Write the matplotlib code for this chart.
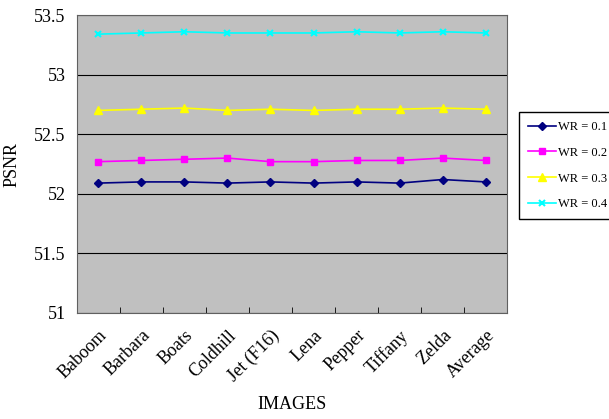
import numpy as np
import matplotlib.pyplot as plt

plt.rcParams['font.family'] = ['Liberation Serif', 'DejaVu Serif']

images = ['Baboom', 'Barbara', 'Boats', 'Coldhill', 'Jet (F16)', 'Lena',
          'Pepper', 'Tiffany', 'Zelda', 'Average']
wr01 = [52.09, 52.10, 52.10, 52.09, 52.10, 52.09, 52.10, 52.09, 52.12, 52.10]
wr02 = [52.27, 52.28, 52.29, 52.30, 52.27, 52.27, 52.28, 52.28, 52.30, 52.28]
wr03 = [52.70, 52.71, 52.72, 52.70, 52.71, 52.70, 52.71, 52.71, 52.72, 52.71]
wr04 = [53.34, 53.35, 53.36, 53.35, 53.35, 53.35, 53.36, 53.35, 53.36, 53.35]
yticks = [51, 51.5, 52, 52.5, 53, 53.5]

fig = plt.figure(figsize=(6.09, 4.19), dpi=100)
ax = fig.add_axes([0.126, 0.253, 0.707, 0.711])
ax.set_facecolor('#c0c0c0')

x = np.arange(len(images))
ax.plot(x, wr01, color='#000080', marker='D', markersize=4, lw=1.2, label='WR = 0.1')
ax.plot(x, wr02, color='#ff00ff', marker='s', markersize=5, lw=1.2, label='WR = 0.2')
ax.plot(x, wr03, color='#ffff00', marker='^', markersize=6, lw=1.2, label='WR = 0.3')
ax.plot(x, wr04, color='#00ffff', marker='x', markersize=5, mew=1.5, lw=1.2, label='WR = 0.4')

ax.set_xlim(-0.5, len(images) - 0.5)
ax.set_ylim(51, 53.5)
ax.set_yticks(yticks)
ax.set_yticklabels(['51', '51.5', '52', '52.5', '53', '53.5'], fontsize=13)
ax.yaxis.grid(True, color='black', lw=0.8)
ax.set_axisbelow(True)
ax.tick_params(axis='y', length=0, pad=8)

ax.set_xticks(x)
ax.set_xticklabels(images, rotation=45, ha='right', rotation_mode='anchor', fontsize=13)
ax.tick_params(axis='x', length=0, pad=10)
ax.set_xticks(np.arange(0.5, len(images) - 0.5), minor=True)
ax.tick_params(axis='x', which='minor', direction='in', length=4)
for s in ax.spines.values():
    s.set_color('#606060')

ax.set_ylabel('PSNR', fontsize=13, labelpad=10)
ax.set_xlabel('IMAGES', fontsize=13, labelpad=8)

fig.legend(loc='upper left', bbox_to_anchor=(0.852, 0.732), fontsize=9,
           frameon=True, fancybox=False, edgecolor='black', framealpha=1,
           handlelength=2.3, borderpad=0.7, labelspacing=1.1, handletextpad=0.1,
           borderaxespad=0.0)

fig.savefig('out.png', dpi=100)
